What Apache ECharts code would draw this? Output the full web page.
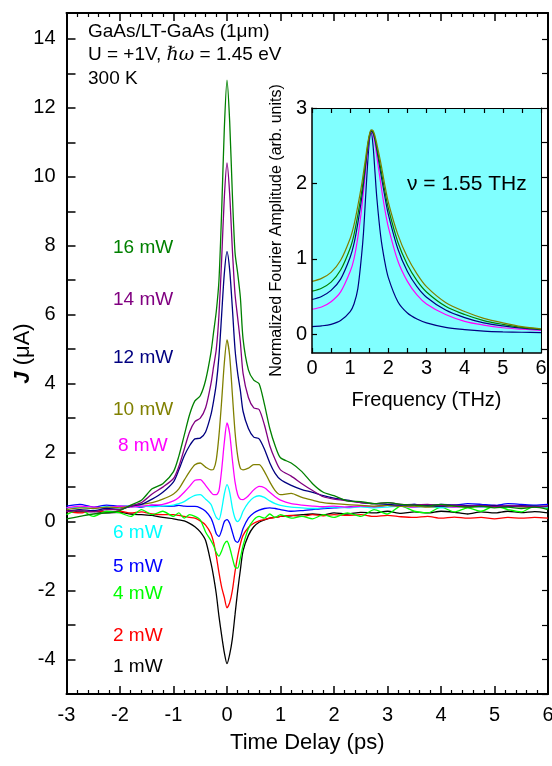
<!DOCTYPE html>
<html><head><meta charset="utf-8">
<script src="https://cdn.jsdelivr.net/npm/echarts/dist/echarts.min.js"></script>
<style>html,body{margin:0;padding:0;background:#fff}#c{width:552px;height:766px}</style>
</head><body><div id="c"></div>
<script>
// ---- Main panel: time delay (ps) ----
const T = [-3,-2.75,-2.5,-2.25,-2, -1.8,-1.6,-1.4,-1.2, -1,-0.9,-0.8,-0.7,-0.6,-0.5,-0.4,-0.3,
  -0.25,-0.2,-0.15,-0.1,-0.05,0,0.05,0.1,0.15,0.2,0.25,0.3, 0.4,0.5,0.6,0.7,0.8,0.9,1,
  1.2,1.4,1.6,1.8,2, 2.25,2.5,2.75,3,3.25,3.5,3.75,4,4.25,4.5,4.75,5,5.25,5.5,5.75,6];
const J1 = [0.32,0.28,0.3,0.25,0.27, 0.22,0.2,0.18,0.12, 0.08,0.05,0.02,-0.05,-0.15,-0.3,-0.55,-1.2,
  -1.6,-2.1,-2.75,-3.3,-3.8,-4.12,-3.85,-3.4,-2.7,-2.0,-1.4,-0.85, -0.4,-0.15,-0.02,0.05,0.1,0.12,0.15,
  0.17,0.2,0.22,0.2,0.25, 0.22,0.27,0.25,0.3,0.24,0.28,0.25,0.3,0.27,0.22,0.28,0.25,0.3,0.26,0.29,0.25];
const J2 = [0.3,0.25,0.32,0.28,0.3, 0.25,0.28,0.22,0.2, 0.2,0.18,0.15,0.12,0.1,0.02,-0.1,-0.35,
  -0.6,-1.0,-1.48,-1.9,-2.2,-2.5,-2.35,-2.0,-1.45,-1.0,-0.65,-0.4, -0.17,-0.05,0.02,0.06,0.1,0.12,0.15,
  0.18,0.15,0.2,0.17,0.2, 0.18,0.2,0.15,0.18,0.14,0.12,0.15,0.1,0.13,0.1,0.12,0.08,0.12,0.1,0.12,0.1];
const J4 = [0.2,0.35,0.15,0.3,0.25, 0.15,0.35,0.2,0.3, 0.15,0.25,0.1,0.2,0.15,0.05,-0.3,-0.55,
  -0.7,-0.9,-1.0,-0.85,-0.65,-0.57,-0.75,-1.05,-1.32,-1.35,-1.05,-0.7, -0.2,0.05,0.15,0.1,0.22,0.12,0.2,
  0.1,0.15,0.08,0.2,0.12, 0.25,0.15,0.35,0.22,0.45,0.3,0.25,0.42,0.28,0.4,0.3,0.45,0.35,0.28,0.45,0.38];
const J5 = [0.45,0.5,0.42,0.48,0.45, 0.45,0.42,0.48,0.44, 0.45,0.47,0.45,0.44,0.44,0.4,0.3,0.1,
  -0.1,-0.35,-0.43,-0.25,0.0,0.06,-0.05,-0.3,-0.55,-0.6,-0.45,-0.2, 0.1,0.25,0.33,0.38,0.4,0.38,0.35,
  0.3,0.32,0.35,0.38,0.4, 0.42,0.45,0.43,0.48,0.45,0.5,0.47,0.5,0.48,0.52,0.5,0.47,0.52,0.5,0.48,0.5];
const J6 = [0.4,0.42,0.38,0.43,0.4, 0.42,0.45,0.43,0.45, 0.48,0.52,0.58,0.68,0.76,0.78,0.65,0.5,
  0.3,0.12,0.06,0.35,0.8,1.07,0.85,0.4,0.1,0.0,0.1,0.3, 0.55,0.7,0.75,0.7,0.6,0.52,0.47,
  0.42,0.4,0.38,0.4,0.42, 0.4,0.43,0.4,0.42,0.45,0.42,0.44,0.4,0.43,0.45,0.42,0.44,0.42,0.45,0.43,0.42];
const J8 = [0.4,0.45,0.42,0.4,0.45, 0.42,0.45,0.48,0.5, 0.6,0.7,0.85,1.02,1.2,1.22,1.05,0.85,
  0.78,0.78,0.9,1.5,2.3,2.86,2.55,1.8,1.15,0.78,0.65,0.64, 0.75,0.92,1.02,0.98,0.85,0.72,0.62,
  0.52,0.48,0.45,0.43,0.45, 0.42,0.45,0.43,0.47,0.45,0.42,0.46,0.44,0.42,0.45,0.43,0.47,0.44,0.45,0.42,0.44];
const J10 = [0.35,0.4,0.38,0.42,0.4, 0.45,0.5,0.55,0.65, 0.8,0.95,1.2,1.45,1.65,1.7,1.58,1.5,
  1.52,1.8,2.5,3.5,4.6,5.27,4.8,3.7,2.6,1.9,1.55,1.5, 1.55,1.65,1.65,1.45,1.15,0.9,0.78,
  0.82,0.7,0.62,0.55,0.52, 0.49,0.47,0.45,0.47,0.44,0.45,0.42,0.44,0.45,0.42,0.44,0.42,0.45,0.43,0.42,0.44];
const J12 = [0.3,0.35,0.32,0.38,0.35, 0.45,0.5,0.65,0.85, 1.15,1.5,1.9,2.2,2.4,2.42,2.6,3.1,
  3.5,4.0,4.8,6.0,7.2,7.83,7.3,6.2,5.0,4.3,3.8,3.2, 2.7,2.45,2.4,2.1,1.7,1.4,1.22,
  1.05,0.93,0.85,0.75,0.68, 0.62,0.55,0.52,0.5,0.48,0.5,0.47,0.45,0.48,0.46,0.45,0.47,0.44,0.46,0.45,0.44];
const J14 = [0.3,0.32,0.28,0.35,0.35, 0.45,0.55,0.8,1.0, 1.25,1.6,2.1,2.6,2.9,3.0,3.3,4.0,
  4.5,5.0,6.0,7.6,9.4,10.4,9.5,7.9,6.6,5.9,5.2,4.3, 3.6,3.3,3.25,2.8,2.2,1.8,1.5,
  1.32,1.1,0.9,0.72,0.65, 0.6,0.55,0.52,0.55,0.5,0.48,0.5,0.47,0.48,0.45,0.47,0.44,0.46,0.45,0.43,0.45];
const J16 = [0.08,0.15,0.22,0.25,0.32, 0.48,0.62,0.95,1.1, 1.45,1.9,2.5,3.1,3.5,3.65,4.1,4.9,
  5.5,6.1,7.0,9.0,11.4,12.8,11.6,9.5,7.8,7.2,6.5,5.3, 4.4,4.1,4.0,3.4,2.7,2.2,1.85,
  1.7,1.45,1.1,0.85,0.75, 0.6,0.58,0.52,0.55,0.5,0.48,0.45,0.5,0.45,0.42,0.45,0.4,0.42,0.38,0.42,0.35];
const mainSeries = [
  {name:'1 mW', data:J1, color:'#000000'},
  {name:'2 mW', data:J2, color:'#ff0000'},
  {name:'4 mW', data:J4, color:'#00ff00'},
  {name:'5 mW', data:J5, color:'#0000ff'},
  {name:'6 mW', data:J6, color:'#00ffff'},
  {name:'8 mW', data:J8, color:'#ff00ff'},
  {name:'10 mW', data:J10, color:'#808000'},
  {name:'12 mW', data:J12, color:'#000080'},
  {name:'14 mW', data:J14, color:'#800080'},
  {name:'16 mW', data:J16, color:'#008000'}
];
const yLabelVals = [-4,-2,0,2,4,6,8,10,12,14];
const yTickVals = [-5,-4,-3,-2,-1,0,1,2,3,4,5,6,7,8,9,10,11,12,13,14];

// ---- Inset: Fourier amplitude ----
const F = [0,0.25,0.5,0.75,1,1.1,1.2,1.3,1.35,1.4,1.45,1.5,1.55,1.6,1.65,1.7,1.8,1.9,2,2.25,2.5,2.75,3,3.5,4,4.5,5,5.5,6];
const A10 = [0.70,0.74,0.82,0.98,1.27,1.45,1.7,1.98,2.15,2.32,2.5,2.64,2.71,2.7,2.63,2.52,2.28,2.0,1.75,1.32,1.02,0.8,0.63,0.42,0.3,0.21,0.15,0.1,0.07];
const A16 = [0.57,0.61,0.69,0.85,1.14,1.32,1.58,1.88,2.06,2.26,2.46,2.62,2.70,2.68,2.6,2.47,2.2,1.92,1.67,1.22,0.92,0.71,0.56,0.37,0.26,0.18,0.13,0.09,0.065];
const A12 = [0.46,0.5,0.58,0.73,1.02,1.2,1.47,1.8,2.0,2.22,2.44,2.61,2.69,2.67,2.58,2.44,2.14,1.85,1.59,1.13,0.83,0.63,0.49,0.32,0.22,0.15,0.11,0.08,0.06];
const A8 = [0.33,0.36,0.43,0.56,0.83,1.0,1.28,1.66,1.9,2.15,2.4,2.6,2.69,2.65,2.53,2.35,2.0,1.68,1.42,0.97,0.7,0.52,0.4,0.26,0.17,0.12,0.085,0.065,0.05];
const A5 = [0.10,0.11,0.13,0.18,0.3,0.4,0.6,1.05,1.35,1.78,2.2,2.55,2.68,2.5,2.15,1.8,1.3,0.98,0.75,0.43,0.28,0.2,0.15,0.09,0.06,0.04,0.03,0.025,0.02];
const insetSeries = [
  {data:A5, color:'#000080'},
  {data:A8, color:'#ff00ff'},
  {data:A12, color:'#000080'},
  {data:A16, color:'#008000'},
  {data:A10, color:'#808000'}
];

const FONT = '"Liberation Sans", Arial, Helvetica, sans-serif';
const chart = echarts.init(document.getElementById('c'), null, {renderer:'canvas'});

const series = [];
mainSeries.forEach(s => series.push({
  type:'line', name:s.name, xAxisIndex:0, yAxisIndex:0, showSymbol:false, smooth:0.25,
  data: T.map((t,i)=>[t, s.data[i]]), lineStyle:{color:s.color, width:1.3}, itemStyle:{color:s.color},
  animation:false, z:3
}));
insetSeries.forEach(s => series.push({
  type:'line', xAxisIndex:2, yAxisIndex:2, showSymbol:false, smooth:0.3,
  data: F.map((f,i)=>[f, s.data[i]]), lineStyle:{color:s.color, width:1.2}, itemStyle:{color:s.color},
  animation:false, z:6
}));

const labelPos = {
  '16 mW':[113,248], '14 mW':[113,300], '12 mW':[113,358], '10 mW':[113,410], '8 mW':[118,446],
  '6 mW':[113,533], '5 mW':[113,567], '4 mW':[113,594], '2 mW':[113,636], '1 mW':[113,667]
};
const graphics = mainSeries.map(s => ({
  type:'text', x:labelPos[s.name][0], y:labelPos[s.name][1], z:10,
  style:{text:s.name, fill:s.color, font:'19px '+FONT, verticalAlign:'middle'}
}));
graphics.push({type:'text', x:88, y:32, z:10, style:{text:'GaAs/LT-GaAs (1μm)', fill:'#000', font:'19px '+FONT, verticalAlign:'middle'}});
graphics.push({type:'text', x:88, y:55, z:10, style:{text:'{n|U = +1V, }{i|ℏω}{n| = 1.45 eV}', verticalAlign:'middle',
  rich:{n:{fontSize:19, fontFamily:FONT, fill:'#000'}, i:{fontSize:19, fontFamily:'"DejaVu Serif", serif', fontStyle:'italic', fill:'#000'}}}});
graphics.push({type:'text', x:88, y:79, z:10, style:{text:'300 K', fill:'#000', font:'19px '+FONT, verticalAlign:'middle'}});
graphics.push({type:'text', x:407, y:184, z:10, style:{text:'ν = 1.55 THz', fill:'#000', font:'21px '+FONT, verticalAlign:'middle'}});

const axLine = {show:true, onZero:false, lineStyle:{color:'#000', width:2}};
const option = {
  animation:false,
  backgroundColor:'#fff',
  textStyle:{fontFamily:FONT},
  grid:[
    {left:66.5, right:4, top:13, bottom:72, containLabel:false, outerBoundsMode:'none'},
    {left:312, top:108, width:229, height:245, show:true, backgroundColor:'#80ffff', borderWidth:0, z:4,
     containLabel:false, outerBoundsMode:'none'}
  ],
  xAxis:[
    {type:'value', gridIndex:0, position:'bottom', min:-3, max:6, interval:1,
     axisLine:axLine, axisTick:{inside:true, length:8, lineStyle:{width:1.5, color:'#000'}},
     minorTick:{show:true, splitNumber:5, length:4, lineStyle:{width:1.2, color:'#000'}},
     axisLabel:{fontSize:20, color:'#000', margin:11, fontFamily:FONT},
     splitLine:{show:false},
     name:'Time Delay (ps)', nameLocation:'middle', nameGap:38, nameMoveOverlap:false,
     nameTextStyle:{fontSize:22, color:'#000', fontFamily:FONT}},
    {type:'value', gridIndex:0, position:'top', min:-3, max:6, interval:1,
     axisLine:axLine, axisTick:{inside:true, length:8, lineStyle:{width:1.5, color:'#000'}},
     minorTick:{show:true, splitNumber:5, length:4, lineStyle:{width:1.2, color:'#000'}},
     axisLabel:{show:false}, splitLine:{show:false}},
    {type:'value', gridIndex:1, position:'bottom', min:0, max:6, interval:1,
     axisLine:{show:true, onZero:false, lineStyle:{color:'#000', width:1.5}},
     axisTick:{inside:true, length:5, lineStyle:{width:1.2, color:'#000'}},
     minorTick:{show:true, splitNumber:2, length:5, lineStyle:{width:1.2, color:'#000'}},
     axisLabel:{fontSize:20, color:'#000', margin:5, fontFamily:FONT},
     splitLine:{show:false},
     name:'Frequency (THz)', nameLocation:'middle', nameGap:37, nameMoveOverlap:false,
     nameTextStyle:{fontSize:20, color:'#000', fontFamily:FONT}, z:7},
    {type:'value', gridIndex:1, position:'top', min:0, max:6, interval:1,
     axisLine:{show:true, onZero:false, lineStyle:{color:'#000', width:1.2}},
     axisTick:{inside:true, length:5, lineStyle:{width:1.2, color:'#000'}},
     minorTick:{show:true, splitNumber:2, length:5, lineStyle:{width:1.2, color:'#000'}},
     axisLabel:{show:false}, splitLine:{show:false}, z:7}
  ],
  yAxis:[
    {type:'value', gridIndex:0, position:'left', min:-5, max:14.75, interval:1,
     axisLine:axLine,
     axisTick:{inside:true, length:9, lineStyle:{width:1.5, color:'#000'}, customValues:yTickVals},
     axisLabel:{fontSize:20, color:'#000', margin:11, fontFamily:FONT, customValues:yLabelVals},
     splitLine:{show:false},
     name:'{b|J} (μA)', nameLocation:'middle', nameGap:33, nameMoveOverlap:false,
     nameTextStyle:{fontSize:22, color:'#000', fontFamily:FONT,
       rich:{b:{fontSize:22, fontWeight:'bold', fontStyle:'italic', fontFamily:FONT, color:'#000'}}}},
    {type:'value', gridIndex:0, position:'right', min:-5, max:14.75, interval:1,
     axisLine:axLine,
     axisTick:{inside:true, length:6, lineStyle:{width:1.2, color:'#000'}, customValues:yTickVals},
     axisLabel:{show:false}, splitLine:{show:false}},
    {type:'value', gridIndex:1, position:'left', min:-0.25, max:3,
     axisLine:{show:true, onZero:false, lineStyle:{color:'#000', width:1.5}},
     axisTick:{inside:true, length:5, lineStyle:{width:1.2, color:'#000'}, customValues:[0,1,2,3]},
     axisLabel:{fontSize:20, color:'#000', margin:5, fontFamily:FONT, customValues:[0,1,2,3]},
     splitLine:{show:false},
     name:'Normalized Fourier Amplitude (arb. units)', nameLocation:'middle', nameGap:27, nameMoveOverlap:false,
     nameTextStyle:{fontSize:16, color:'#000', fontFamily:FONT}, z:7},
    {type:'value', gridIndex:1, position:'right', min:-0.25, max:3,
     axisLine:{show:true, onZero:false, lineStyle:{color:'#000', width:1}},
     axisTick:{show:false}, axisLabel:{show:false}, splitLine:{show:false}, z:7}
  ],
  series: series,
  graphic: graphics
};
chart.setOption(option);
</script>
</body></html>
